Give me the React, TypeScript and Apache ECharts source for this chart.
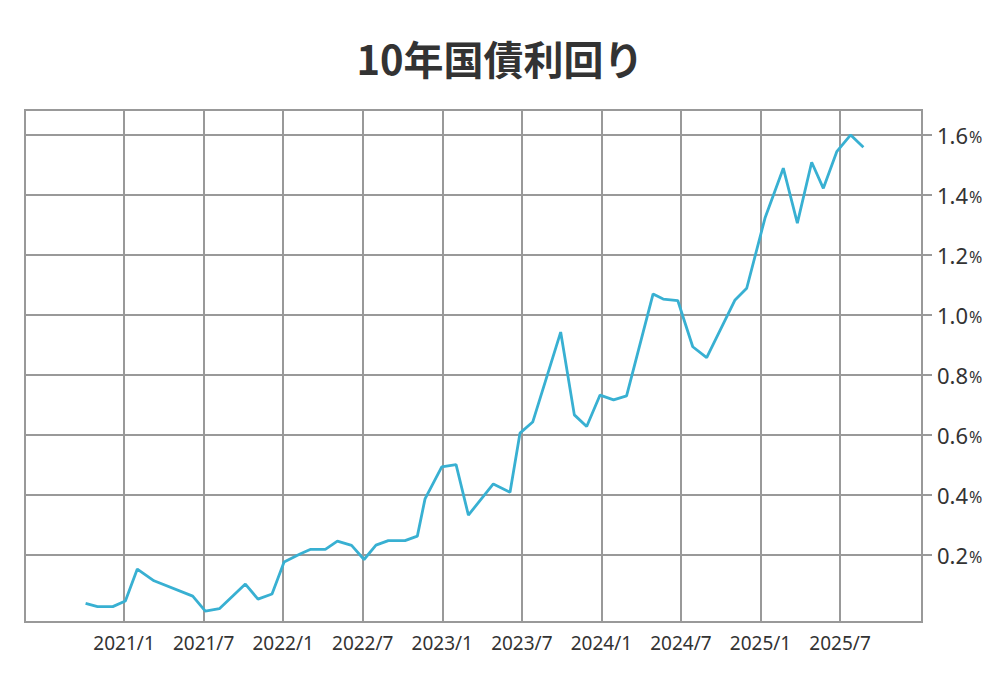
import React, { useEffect, useRef } from "react";
import * as echarts from "echarts";

// Month index: 0 = 2020/1, 12 = 2021/1, ...
const months = [
  9.1, 10.0, 11.15, 12.1, 13.0, 14.26, 17.18, 18.13, 19.19, 21.15, 22.1, 23.16,
  24.07, 25.27, 26.08, 27.18, 28.09, 29.16, 30.1, 31.0, 31.93, 33.19, 34.12, 34.7,
  35.96, 37.04, 37.97, 39.85, 41.11, 41.86, 42.82, 44.93, 45.96, 46.89, 47.9, 48.92,
  49.9, 51.9, 52.66, 53.76, 54.89, 55.94, 58.08, 58.96, 60.34, 61.72, 62.78, 63.86,
  64.74, 65.75, 66.8, 67.76,
];
const yields = [
  0.039, 0.028, 0.028, 0.047, 0.153, 0.114, 0.063, 0.013, 0.021, 0.103, 0.053, 0.07,
  0.177, 0.203, 0.219, 0.219, 0.246, 0.232, 0.185, 0.233, 0.248, 0.248, 0.263, 0.387,
  0.494, 0.501, 0.333, 0.437, 0.409, 0.606, 0.643, 0.943, 0.667, 0.628, 0.733, 0.717,
  0.73, 1.07, 1.053, 1.048, 0.894, 0.858, 1.05, 1.089, 1.323, 1.489, 1.306, 1.509,
  1.422, 1.544, 1.6, 1.559,
];
const xTickValues = [12, 18, 24, 30, 36, 42, 48, 54, 60, 66];
const yTickValues = [0.2, 0.4, 0.6, 0.8, 1.0, 1.2, 1.4, 1.6];
const title = "10年国債利回り";

const GRAY = "#999999";
const FONT = "'Noto Sans', 'Open Sans', sans-serif";

export default function App() {
  const ref = useRef<HTMLDivElement>(null);
  useEffect(() => {
    if (!ref.current) return;
    const chart = echarts.init(ref.current, null, { renderer: "svg" });
    chart.setOption({
      animation: false,
      backgroundColor: "#ffffff",
      title: {
        text: title,
        left: "center",
        top: 33,
        textStyle: {
          fontFamily: "'Noto Sans CJK JP', sans-serif",
          fontWeight: "bold",
          fontSize: 40,
          color: "#333333",
        },
      },
      grid: {
        left: 25,
        right: 78,
        top: 110,
        bottom: 69,
        show: true,
        borderColor: GRAY,
        borderWidth: 2,
        containLabel: false,
      },
      xAxis: {
        type: "value",
        min: 4.53,
        max: 72.18,
        axisLine: { show: true, onZero: false, lineStyle: { color: GRAY, width: 2 } },
        axisTick: { show: false, customValues: xTickValues },
        axisLabel: {
          customValues: xTickValues,
          margin: 11,
          fontSize: 19,
          fontFamily: FONT,
          color: "#333333",
          formatter: (v: number) => {
            const y = 2020 + Math.floor(v / 12);
            const m = (Math.round(v) % 12) + 1;
            return `${y}/${m}`;
          },
        },
        splitLine: { show: true, lineStyle: { color: GRAY, width: 2 } },
      },
      yAxis: {
        type: "value",
        position: "right",
        min: -0.0233,
        max: 1.683,
        axisLine: { show: true, onZero: false, lineStyle: { color: GRAY, width: 2 } },
        axisTick: {
          show: true,
          inside: false,
          length: 10,
          customValues: yTickValues,
          lineStyle: { color: GRAY, width: 2 },
        },
        axisLabel: {
          customValues: yTickValues,
          margin: 15,
          formatter: (v: number) => `{a|${v.toFixed(1)}}{b|%}`,
          rich: {
            a: { fontSize: 22, fontFamily: FONT, color: "#333333" },
            b: { fontSize: 16, fontFamily: FONT, color: "#333333", padding: [5, 0, 0, 1] },
          },
        },
        splitLine: { show: true, lineStyle: { color: GRAY, width: 2 } },
      },
      series: [
        {
          type: "line",
          data: months.map((m, i) => [m, yields[i]]),
          showSymbol: false,
          symbol: "none",
          lineStyle: { color: "#38b0d2", width: 2.8 },
          z: 5,
        },
      ],
    });
    return () => chart.dispose();
  }, []);
  return <div ref={ref} style={{ width: 1000, height: 691, margin: -8 }} />;
}
